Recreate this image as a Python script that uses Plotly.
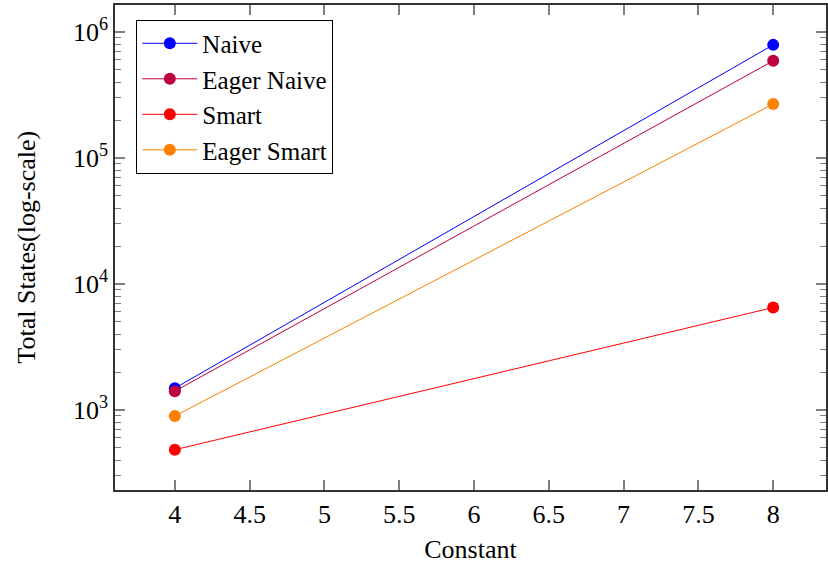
import plotly.graph_objects as go

x_vals = [4, 8]
naive = [1490, 790000]
eager_naive = [1410, 590000]
smart = [484, 6500]
eager_smart = [895, 268000]

x_ticks = [4, 4.5, 5, 5.5, 6, 6.5, 7, 7.5, 8]
x_ticklabels = ["4", "4.5", "5", "5.5", "6", "6.5", "7", "7.5", "8"]
y_ticks = [1e3, 1e4, 1e5, 1e6]
y_ticklabels = ["10<sup>3</sup>", "10<sup>4</sup>", "10<sup>5</sup>", "10<sup>6</sup>"]
y_minor = [m * 10 ** e for e in range(2, 7) for m in range(2, 10)]

series = [
    ("Naive", naive, "#0000ff"),
    ("Eager Naive", eager_naive, "#bf0040"),
    ("Smart", smart, "#ff0000"),
    ("Eager Smart", eager_smart, "#ff8000"),
]

FONT = "Liberation Serif"

fig = go.Figure()
for name, vals, col in series:
    fig.add_trace(go.Scatter(
        x=x_vals, y=vals, name=name, mode="lines+markers",
        line=dict(color=col, width=1),
        marker=dict(color=col, size=12),
    ))

fig.update_layout(
    width=828, height=569,
    margin=dict(l=115, r=0, t=5, b=79),
    paper_bgcolor="white", plot_bgcolor="white",
    font=dict(family=FONT, size=26, color="black"),
    showlegend=True,
    legend=dict(
        x=0.03, y=0.97, xanchor="left", yanchor="top",
        bgcolor="white", bordercolor="black", borderwidth=1,
        font=dict(family=FONT, size=25, color="black"),
        itemwidth=55, tracegroupgap=0,
    ),
    xaxis=dict(
        range=[3.6, 8.353],
        tickvals=x_ticks,
        ticktext=x_ticklabels,
        tickfont=dict(family=FONT, size=26, color="black"),
        ticks="inside", ticklen=10, tickwidth=1.5, tickcolor="#7f7f7f",
        showline=True, linecolor="#333333", linewidth=1.5, mirror="ticks",
        gridcolor="white",
        title=dict(text="Constant", standoff=12, font=dict(family=FONT, size=26, color="black")),
    ),
    yaxis=dict(
        type="log",
        range=[2.365, 6.214],
        tickvals=y_ticks,
        ticktext=y_ticklabels,
        tickfont=dict(family=FONT, size=26, color="black"),
        ticks="inside", ticklen=10, tickwidth=1.5, tickcolor="#7f7f7f",
        minor=dict(tickvals=y_minor, ticks="inside", ticklen=6,
                   tickwidth=1, tickcolor="#7f7f7f"),
        showline=True, linecolor="#333333", linewidth=1.5, mirror="ticks",
        gridcolor="white",
    ),
    annotations=[dict(
        text="Total States(log-scale)", textangle=-90,
        xref="paper", yref="paper", x=-0.125, y=0.5,
        xanchor="center", yanchor="middle", showarrow=False,
        font=dict(family=FONT, size=26, color="black"),
    )],
)

fig.write_html("out.html")
